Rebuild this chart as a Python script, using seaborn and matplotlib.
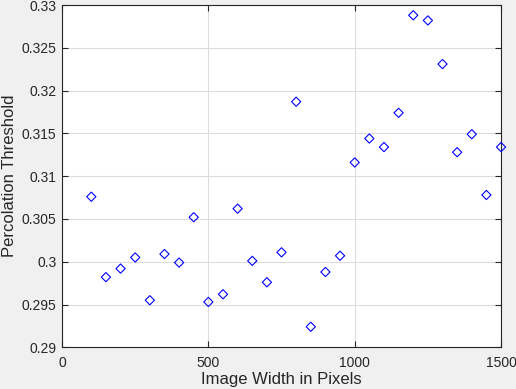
import numpy as np
import pandas as pd
import matplotlib
matplotlib.use("Agg")
import matplotlib.pyplot as plt
import seaborn as sns
from matplotlib.ticker import FormatStrFormatter

# data
image_width = [100, 150, 200, 250, 300, 350, 400, 450, 500, 550, 600, 650, 700, 750,
               800, 850, 900, 950, 1000, 1050, 1100, 1150, 1200, 1250, 1300, 1350,
               1400, 1450, 1500]
threshold = [0.3076, 0.2982, 0.2992, 0.3005, 0.2955, 0.3009, 0.2999, 0.3052, 0.2953,
             0.2962, 0.3062, 0.3001, 0.2976, 0.3011, 0.3187, 0.2924, 0.2988, 0.3007,
             0.3116, 0.3144, 0.3134, 0.3174, 0.3288, 0.3282, 0.3231, 0.3128, 0.3149,
             0.3078, 0.3134]

df = pd.DataFrame({"width": image_width, "threshold": threshold})

sns.set_style("whitegrid")
plt.rcParams["font.family"] = ["Liberation Sans", "DejaVu Sans"]

fig = plt.figure(figsize=(5.16, 3.89), dpi=100, facecolor="#f0f0f0")
ax = fig.add_axes([0.1202, 0.1072, 0.8508, 0.8799])
ax.set_facecolor("white")

sns.scatterplot(data=df, x="width", y="threshold", marker="D", s=22,
                facecolors="none", edgecolors="blue", linewidths=0.8,
                ax=ax, clip_on=False, zorder=3)

ax.set_xlim(0, 1500)
ax.set_ylim(0.29, 0.33)
ax.set_xticks([0, 500, 1000, 1500])
ax.set_yticks(np.arange(0.29, 0.3301, 0.005))
ax.yaxis.set_major_formatter(FormatStrFormatter("%g"))

ax.grid(True, color="#dcdcdc", linewidth=0.8)
for s in ax.spines.values():
    s.set_color("#262626")
    s.set_linewidth(0.8)
    s.set_visible(True)
ax.tick_params(direction="in", length=4, width=0.8, color="#262626",
               labelsize=10, labelcolor="#262626", top=True, right=True,
               left=True, bottom=True)
ax.tick_params(axis="x", pad=6)
ax.tick_params(axis="y", pad=4)

ax.set_xlabel("Image Width in Pixels", fontsize=12, color="#262626", labelpad=2)
ax.set_ylabel("Percolation Threshold", fontsize=12, color="#262626", labelpad=3)

fig.savefig("out.png", dpi=100, facecolor=fig.get_facecolor())
